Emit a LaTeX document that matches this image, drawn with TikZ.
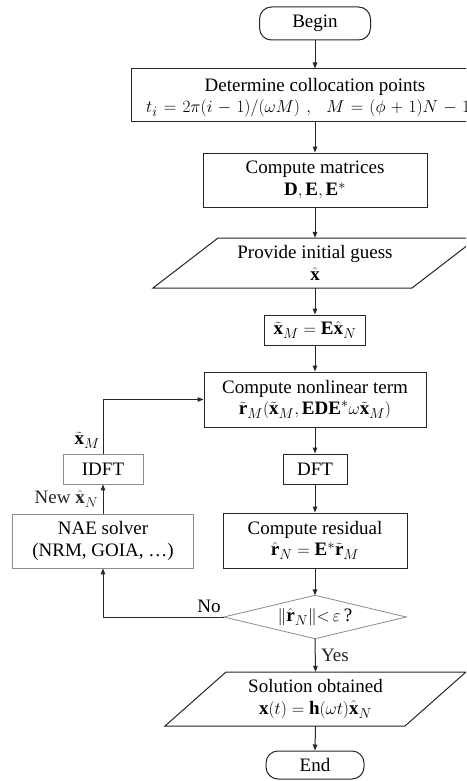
\documentclass[tikz,border=0pt]{standalone}
\usepackage{fontspec}
\setmainfont{Liberation Serif}
\usetikzlibrary{arrows.meta}
\begin{document}
\begin{tikzpicture}[x=1pt,y=-1pt,
  font=\fontsize{19}{21.5}\selectfont,
  box/.style={draw=black!85, line width=1pt, inner sep=0pt, align=center},
  gbox/.style={draw=black!45, line width=0.8pt, inner sep=0pt, align=center},
  ghost/.style={inner sep=0pt, align=center},
  shapeline/.style={draw=black!85, line width=1pt},
  gshapeline/.style={draw=black!45, line width=0.8pt},
  arr/.style={-{Triangle[length=6pt,width=4.5pt]}, line width=1pt, black!85},
  lbl/.style={inner sep=1pt},
]
\useasboundingbox (0,0) rectangle (466,781);
\begin{scope}
\clip (0,0) rectangle (466,781);
\fill[white] (0,0) rectangle (466,781);

\node[box, rounded corners=12pt, minimum width=111pt, minimum height=33pt] (begin) at (315,23.5) {Begin};

\node[box, minimum width=368pt, minimum height=53pt] (det) at (315,95.5) {};
\node[ghost, anchor=base] (detA) at (315,92) {Determine collocation points};
\node[ghost, anchor=base west] (detB) at (146,113)
  {\thickmuskip=6.5mu\medmuskip=5.5mu$t_i=2\pi(i-1)/(\omega M)\;,\;\;M=(\phi+1)N-1$};

\node[box, minimum width=224pt, minimum height=54pt] (mat) at (315,180)
  {Compute matrices\\ $\mathbf{D},\mathbf{E},\mathbf{E}^*$};

\node[ghost, minimum width=259pt, minimum height=50pt] (prov) at (315,263)
  {Provide initial guess\\ $\hat{\mathbf{x}}$};
\draw[shapeline] (153,288) -- (412,288) -- (477,238) -- (218,238) -- cycle;

\node[box, minimum width=101pt, minimum height=30pt] (xm) at (315,330)
  {$\tilde{\mathbf{x}}_M=\mathbf{E}\hat{\mathbf{x}}_N$};

\node[box, minimum width=222pt, minimum height=55pt] (nl) at (315,399.5)
  {Compute nonlinear term\\ $\tilde{\mathbf{r}}_M(\tilde{\mathbf{x}}_M,\mathbf{EDE}^*\omega\tilde{\mathbf{x}}_M)$};

\node[box, minimum width=64pt, minimum height=30pt] (dft) at (315,469) {DFT};
\node[gbox, minimum width=80pt, minimum height=30pt] (idft) at (103,469) {IDFT};

\node[gbox, minimum width=181pt, minimum height=54pt] (nae) at (103,541)
  {NAE solver\\ (NRM, GOIA, \ldots)};

\node[box, minimum width=184pt, minimum height=55pt] (res) at (315,540.5)
  {Compute residual\\ $\hat{\mathbf{r}}_N=\mathbf{E}^*\tilde{\mathbf{r}}_M$};

\node[ghost, minimum width=182pt, minimum height=43pt] (dia) at (315,617)
  {$\|\hat{\mathbf{r}}_N\|{<}\,\varepsilon$\,?};
\draw[gshapeline] (dia.north) -- (dia.east) -- (dia.south) -- (dia.west) -- cycle;

\node[ghost, minimum width=240pt, minimum height=54pt] (sol) at (315.5,699)
  {Solution obtained\\ $\mathbf{x}(t)=\mathbf{h}(\omega t)\hat{\mathbf{x}}_N$};
\draw[shapeline] (165,726) -- (405,726) -- (466,672) -- (226,672) -- cycle;

\node[box, rounded corners=12pt, minimum width=98pt, minimum height=28pt] (end) at (315,765) {End};

\draw[arr] (begin.south) -- (det.north);
\draw[arr] (det.south) -- (mat.north);
\draw[arr] (mat.south) -- (prov.north);
\draw[arr] (prov.south) -- (xm.north);
\draw[arr] (xm.south) -- (nl.north);
\draw[arr] (nl.south) -- (dft.north);
\draw[arr] (dft.south) -- (res.north);
\draw[arr] (res.south) -- (dia.north);
\draw[arr] (dia.south) -- node[midway, right, xshift=2pt] {Yes} (sol.north);
\draw[arr] (sol.south) -- (end.north);

\draw[arr] (dia.west) -| (nae.south);
\node[lbl, anchor=south east] at ([xshift=-2pt,yshift=3pt]dia.west) {No};
\draw[arr] (nae.north) -- node[midway, left, xshift=-1pt] {New $\hat{\mathbf{x}}_N$} (idft.south);
\draw[arr] (idft.north) |- (nl.west);
\node[lbl, anchor=south east] at ([xshift=-2pt,yshift=4pt]idft.north) {$\tilde{\mathbf{x}}_M$};
\end{scope}
\end{tikzpicture}
\end{document}
